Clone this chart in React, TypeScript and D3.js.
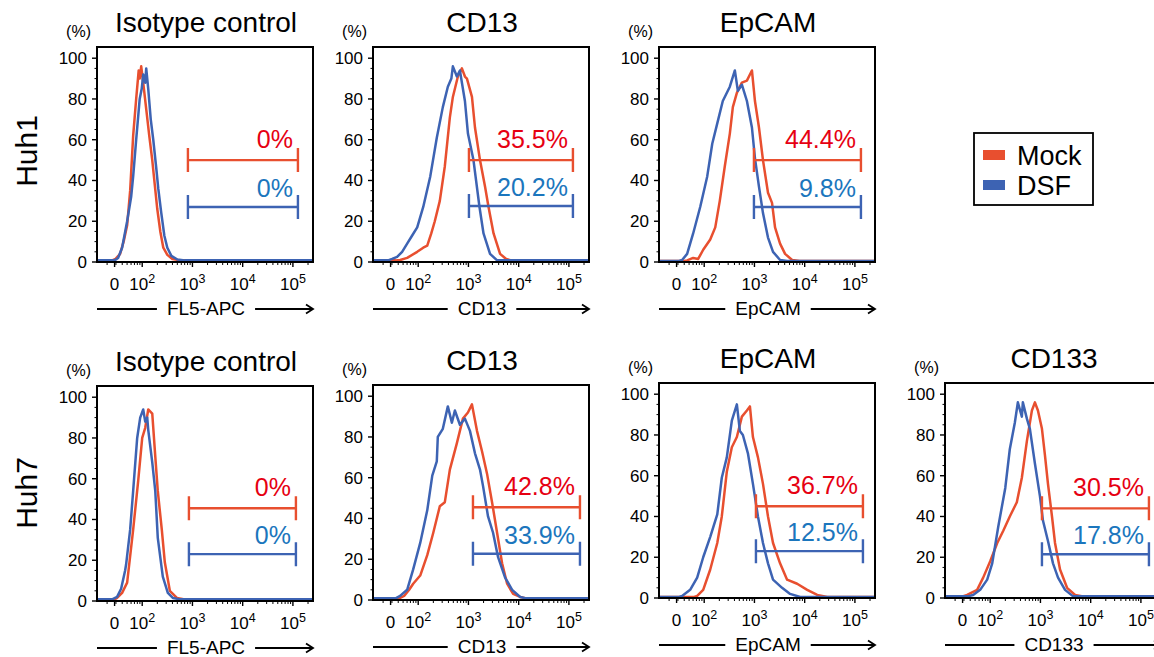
import React, { useEffect, useRef } from 'react';
import * as d3 from 'd3';

// x values are in display units of the biexponential axis (log10 of intensity, "0" sits at 1.45)
const xTickValues = [1.45, 2, 3, 4, 5];
const xTickExponents = ['', '2', '3', '4', '5'];
const yTickValues = [0, 20, 40, 60, 80, 100];

const rowLabels = ['Huh1', 'Huh7'];
const seriesNames = ['Mock', 'DSF'];
const panelTitles = ['Isotype control', 'CD13', 'EpCAM', 'Isotype control', 'CD13', 'EpCAM', 'CD133'];
const axisTitles = ['FL5-APC', 'CD13', 'EpCAM', 'FL5-APC', 'CD13', 'EpCAM', 'CD133'];

const mockPercent = ['0%', '35.5%', '44.4%', '0%', '42.8%', '36.7%', '30.5%'];
const dsfPercent = ['0%', '20.2%', '9.8%', '0%', '33.9%', '12.5%', '17.8%'];
const gateStart = [2.91, 3.01, 2.99, 2.93, 3.09, 3.03, 3.03];
const gateEnd = [5.10, 5.08, 5.12, 5.06, 5.22, 5.16, 5.16];
const mockGateLevel = [50, 50, 50, 45.5, 45.5, 45, 44];
const dsfGateLevel = [27, 27.5, 27, 23, 22.7, 23, 21.5];

const isoHuh1Mock = [[1.1,0.8],[1.40,0.8],[1.47,1.5],[1.56,4],[1.63,10],[1.70,18],[1.76,35],[1.82,62],[1.88,80],[1.93,94],[1.95,90],[1.98,96],[2.02,88],[2.08,75],[2.14,62],[2.20,50],[2.25,38],[2.30,26],[2.36,15],[2.42,7],[2.50,3.5],[2.60,1.5],[2.75,0.8],[5.4,0.8]];
const isoHuh1Dsf = [[1.1,0.8],[1.45,0.8],[1.52,2],[1.60,7],[1.70,20],[1.78,32],[1.82,42],[1.88,60],[1.95,80],[1.99,85],[2.02,92],[2.06,88],[2.08,95],[2.12,85],[2.17,70],[2.22,60],[2.28,46],[2.32,36],[2.38,24],[2.44,13],[2.50,7],[2.58,3],[2.70,1.2],[2.85,0.8],[5.4,0.8]];
const cd13Huh1Mock = [[1.1,0.8],[1.55,0.8],[1.64,1],[1.78,2],[1.98,5],[2.10,7],[2.18,8],[2.26,14],[2.33,20],[2.43,30],[2.53,47],[2.63,71],[2.69,81],[2.79,91],[2.87,95],[2.93,91],[2.97,90],[3.07,81],[3.13,66],[3.23,50],[3.33,37],[3.40,27],[3.50,14],[3.63,4],[3.75,1.5],[3.85,0.8],[5.4,0.8]];
const cd13Huh1Dsf = [[1.1,0.8],[1.40,0.8],[1.48,1.5],[1.58,2.5],[1.68,5],[1.78,9],[1.88,13],[1.98,17],[2.10,27],[2.24,42],[2.37,61],[2.49,76],[2.59,86],[2.66,90],[2.69,96],[2.77,91],[2.83,94],[2.93,79],[2.99,63],[3.10,50],[3.22,27],[3.30,14],[3.43,4],[3.56,1],[3.70,0.8],[5.4,0.8]];
const epcamHuh1Mock = [[1.1,0.5],[1.60,0.5],[1.66,0.8],[1.78,2],[1.88,1.5],[1.98,6],[2.12,11],[2.22,17],[2.31,30],[2.41,47],[2.51,63],[2.57,76],[2.65,83],[2.75,88],[2.85,89],[2.91,92],[2.95,94],[3.01,79],[3.09,66],[3.17,50],[3.27,34],[3.35,29],[3.41,17],[3.51,9],[3.61,4],[3.75,1],[3.90,0.5],[5.4,0.5]];
const epcamHuh1Dsf = [[1.1,0.5],[1.50,0.5],[1.56,1],[1.66,4],[1.78,14],[1.92,27],[2.06,42],[2.16,58],[2.26,68],[2.37,79],[2.51,86],[2.61,94],[2.67,84],[2.75,87],[2.85,79],[2.95,66],[3.01,51],[3.09,37],[3.17,24],[3.27,12],[3.37,5],[3.51,1],[3.65,0.5],[5.4,0.5]];
const isoHuh7Mock = [[1.1,0.8],[1.45,0.8],[1.50,1.5],[1.60,4],[1.70,9],[1.82,35],[1.92,59],[2.00,80],[2.06,85],[2.12,94],[2.20,92],[2.26,71],[2.31,54],[2.39,35],[2.45,19],[2.55,5],[2.69,1.5],[2.85,0.8],[5.4,0.8]];
const isoHuh7Dsf = [[1.1,0.8],[1.40,0.8],[1.50,2],[1.58,6],[1.66,15],[1.68,18],[1.76,35],[1.82,54],[1.90,80],[1.96,90],[2.02,94],[2.06,88],[2.10,90],[2.12,84],[2.20,68],[2.26,54],[2.31,31],[2.41,12],[2.51,4],[2.61,1.5],[2.75,0.8],[5.4,0.8]];
const cd13Huh7Mock = [[1.1,0.8],[1.62,0.8],[1.72,2],[1.82,5],[1.90,8],[2.04,12],[2.18,22],[2.30,33],[2.43,46],[2.53,48],[2.63,64],[2.77,77],[2.89,89],[2.99,92],[3.07,96],[3.17,83],[3.27,73],[3.37,62],[3.47,48],[3.57,33],[3.67,18],[3.77,8],[3.89,3],[4.03,1.5],[4.15,0.8],[5.4,0.8]];
const cd13Huh7Dsf = [[1.1,0.8],[1.55,0.8],[1.64,2],[1.78,5],[1.90,15],[2.04,28],[2.18,44],[2.28,61],[2.37,68],[2.39,80],[2.49,84],[2.59,95],[2.67,87],[2.73,93],[2.83,86],[2.93,89],[3.03,83],[3.13,72],[3.23,64],[3.29,56],[3.39,41],[3.49,33],[3.59,21],[3.73,11],[3.87,5],[4.03,1.5],[4.15,0.8],[5.4,0.8]];
const epcamHuh7Mock = [[1.1,0.5],[1.80,0.5],[1.86,1],[1.98,4],[2.12,14],[2.26,27],[2.35,40],[2.45,62],[2.55,74],[2.65,79],[2.75,89],[2.85,92],[2.91,94],[2.97,79],[3.07,69],[3.17,56],[3.27,40],[3.37,27],[3.51,17],[3.65,9],[3.85,7],[4.05,4],[4.25,1.5],[4.45,0.5],[5.4,0.5]];
const epcamHuh7Dsf = [[1.1,0.5],[1.50,0.5],[1.56,1],[1.72,4],[1.86,10],[1.98,20],[2.12,30],[2.26,41],[2.35,59],[2.45,69],[2.55,87],[2.65,95],[2.71,82],[2.77,80],[2.87,71],[2.97,56],[3.07,40],[3.17,27],[3.27,17],[3.37,9],[3.55,5],[3.71,2],[3.91,0.5],[5.4,0.5]];
const cd133Huh7Mock = [[1.1,0.8],[1.45,0.8],[1.54,1.5],[1.74,4],[1.86,10],[2.00,18],[2.14,27],[2.26,33],[2.39,40],[2.53,47],[2.63,59],[2.73,77],[2.83,92],[2.89,96],[2.95,92],[3.03,83],[3.09,70],[3.15,56],[3.23,40],[3.29,27],[3.39,14],[3.53,5],[3.69,1.5],[3.85,0.8],[5.4,0.8]];
const cd133Huh7Dsf = [[1.1,0.8],[1.55,0.8],[1.66,1.5],[1.80,4],[1.94,9],[2.04,17],[2.16,35],[2.30,54],[2.39,73],[2.49,86],[2.55,96],[2.63,89],[2.65,96],[2.73,88],[2.79,83],[2.89,66],[2.99,50],[3.05,38],[3.15,28],[3.25,17],[3.35,10],[3.49,4],[3.65,0.8],[5.4,0.8]];

const mockCurves = [isoHuh1Mock, cd13Huh1Mock, epcamHuh1Mock, isoHuh7Mock, cd13Huh7Mock, epcamHuh7Mock, cd133Huh7Mock];
const dsfCurves = [isoHuh1Dsf, cd13Huh1Dsf, epcamHuh1Dsf, isoHuh7Dsf, cd13Huh7Dsf, epcamHuh7Dsf, cd133Huh7Dsf];

// where each panel frame sits on the page
const panelPos = [[97, 47], [373, 47], [659, 47], [97, 386], [373, 385], [659, 383], [945, 383]];
const rowLabelY = [151, 493];

const FONT = "'Liberation Sans', Arial, Helvetica, sans-serif";
const MOCK_LINE = '#e84f2f';
const DSF_LINE = '#3d63b3';
const MOCK_TEXT = '#e60012';
const DSF_TEXT = '#1b76bd';

function App() {
  const ref = useRef(null);

  useEffect(() => {
    const svg = d3.select(ref.current);
    svg.selectAll('*').remove();

    const w = 216, h = 215;
    const x = d3.scaleLinear().domain([1.1, 5.4]).range([0, w]);
    const y = d3.scaleLinear().domain([0, 105.5]).range([h, 0]);
    const line = d3.line().x(d => x(d[0])).y(d => y(d[1]));

    const minorX = [];
    for (let n = 1; n <= 5; n++) {
      for (let k = 2; k <= 9; k++) {
        const v = n + Math.log10(k);
        if (v > 1.15 && v < 5.4) minorX.push(v);
      }
    }
    const minorY = d3.range(5, 105, 5).filter(v => v % 20 !== 0);

    panelPos.forEach((pos, i) => {
      const g = svg.append('g').attr('transform', `translate(${pos[0]},${pos[1]})`);

      g.append('path').datum(mockCurves[i]).attr('d', line)
        .attr('fill', 'none').attr('stroke', MOCK_LINE).attr('stroke-width', 2.5).attr('stroke-linejoin', 'round');
      g.append('path').datum(dsfCurves[i]).attr('d', line)
        .attr('fill', 'none').attr('stroke', DSF_LINE).attr('stroke-width', 2.5).attr('stroke-linejoin', 'round');

      g.append('rect').attr('width', w).attr('height', h)
        .attr('fill', 'none').attr('stroke', '#000').attr('stroke-width', 2);

      // y axis
      g.selectAll('.ymaj').data(yTickValues).enter().append('line')
        .attr('x1', -5).attr('x2', 0).attr('y1', d => y(d)).attr('y2', d => y(d))
        .attr('stroke', '#000').attr('stroke-width', 1.4);
      g.selectAll('.ymin').data(minorY).enter().append('line')
        .attr('x1', -2.5).attr('x2', 0).attr('y1', d => y(d)).attr('y2', d => y(d))
        .attr('stroke', '#000').attr('stroke-width', 1);
      g.selectAll('.ylab').data(yTickValues).enter().append('text')
        .attr('x', -10).attr('y', d => y(d) + 6).attr('text-anchor', 'end')
        .attr('font-size', 17).attr('font-family', FONT).text(d => d);
      g.append('text').attr('x', -6).attr('y', -10).attr('text-anchor', 'end')
        .attr('font-size', 16).attr('font-family', FONT).text('(%)');

      // x axis
      g.selectAll('.xmaj').data(xTickValues).enter().append('line')
        .attr('x1', d => x(d)).attr('x2', d => x(d)).attr('y1', h).attr('y2', h + 5)
        .attr('stroke', '#000').attr('stroke-width', 1.4);
      g.selectAll('.xmin').data(minorX).enter().append('line')
        .attr('x1', d => x(d)).attr('x2', d => x(d)).attr('y1', h).attr('y2', h + 3)
        .attr('stroke', '#000').attr('stroke-width', 1);
      const xl = g.selectAll('.xlab').data(xTickValues).enter().append('text')
        .attr('x', d => x(d)).attr('y', h + 28).attr('text-anchor', 'middle')
        .attr('font-size', 17).attr('font-family', FONT);
      xl.each(function (d, j) {
        const t = d3.select(this);
        if (j === 0) { t.text('0'); return; }
        t.append('tspan').text('10');
        t.append('tspan').attr('font-size', 12.5).attr('dy', -7).text(xTickExponents[j]);
      });

      // axis title with arrow
      const cx = w / 2 + 1;
      const at = g.append('text').attr('x', cx).attr('y', h + 53).attr('text-anchor', 'middle')
        .attr('font-size', 19).attr('font-family', FONT).text(axisTitles[i]);
      const tw = at.node().getComputedTextLength();
      const ly = h + 47;
      g.append('line').attr('x1', 0).attr('x2', cx - tw / 2 - 10).attr('y1', ly).attr('y2', ly)
        .attr('stroke', '#000').attr('stroke-width', 1.8);
      g.append('line').attr('x1', cx + tw / 2 + 10).attr('x2', w).attr('y1', ly).attr('y2', ly)
        .attr('stroke', '#000').attr('stroke-width', 1.8);
      g.append('path').attr('d', `M${w - 7},${ly - 4.5}L${w},${ly}L${w - 7},${ly + 4.5}`)
        .attr('fill', 'none').attr('stroke', '#000').attr('stroke-width', 1.8);

      // title
      g.append('text').attr('x', w / 2 + 1).attr('y', -15).attr('text-anchor', 'middle')
        .attr('font-size', 28).attr('font-family', FONT).text(panelTitles[i]);

      // gates
      const gates = [
        { level: mockGateLevel[i], color: MOCK_LINE, tc: MOCK_TEXT, label: mockPercent[i], off: 12 },
        { level: dsfGateLevel[i], color: DSF_LINE, tc: DSF_TEXT, label: dsfPercent[i], off: 10 },
      ];
      gates.forEach(gt => {
        const gy = y(gt.level), x0 = x(gateStart[i]), x1 = x(gateEnd[i]);
        g.append('path').attr('d', `M${x0},${gy - 12}V${gy + 12}M${x0},${gy}H${x1}M${x1},${gy - 12}V${gy + 12}`)
          .attr('fill', 'none').attr('stroke', gt.color).attr('stroke-width', 2.4);
        g.append('text').attr('x', x1 - 5).attr('y', gy - gt.off).attr('text-anchor', 'end')
          .attr('font-size', 25).attr('font-family', FONT).attr('fill', gt.tc).text(gt.label);
      });
    });

    rowLabels.forEach((r, i) => {
      svg.append('text').attr('transform', `translate(37,${rowLabelY[i]}) rotate(-90)`)
        .attr('text-anchor', 'middle').attr('font-size', 30).attr('font-family', FONT).text(r);
    });

    // legend
    const lg = svg.append('g').attr('transform', 'translate(974,133)');
    lg.append('rect').attr('width', 119).attr('height', 72)
      .attr('fill', '#fff').attr('stroke', '#000').attr('stroke-width', 1.8);
    [MOCK_LINE, DSF_LINE].forEach((c, i) => {
      lg.append('rect').attr('x', 9).attr('y', 17 + i * 30).attr('width', 22).attr('height', 10).attr('fill', c);
      lg.append('text').attr('x', 43).attr('y', 32 + i * 30).attr('font-size', 27)
        .attr('font-family', FONT).text(seriesNames[i]);
    });
  }, []);

  return (
    <svg ref={ref} width={1154} height={657}
         style={{ position: 'absolute', left: 0, top: 0, background: '#fff' }} />
  );
}

export default App;
